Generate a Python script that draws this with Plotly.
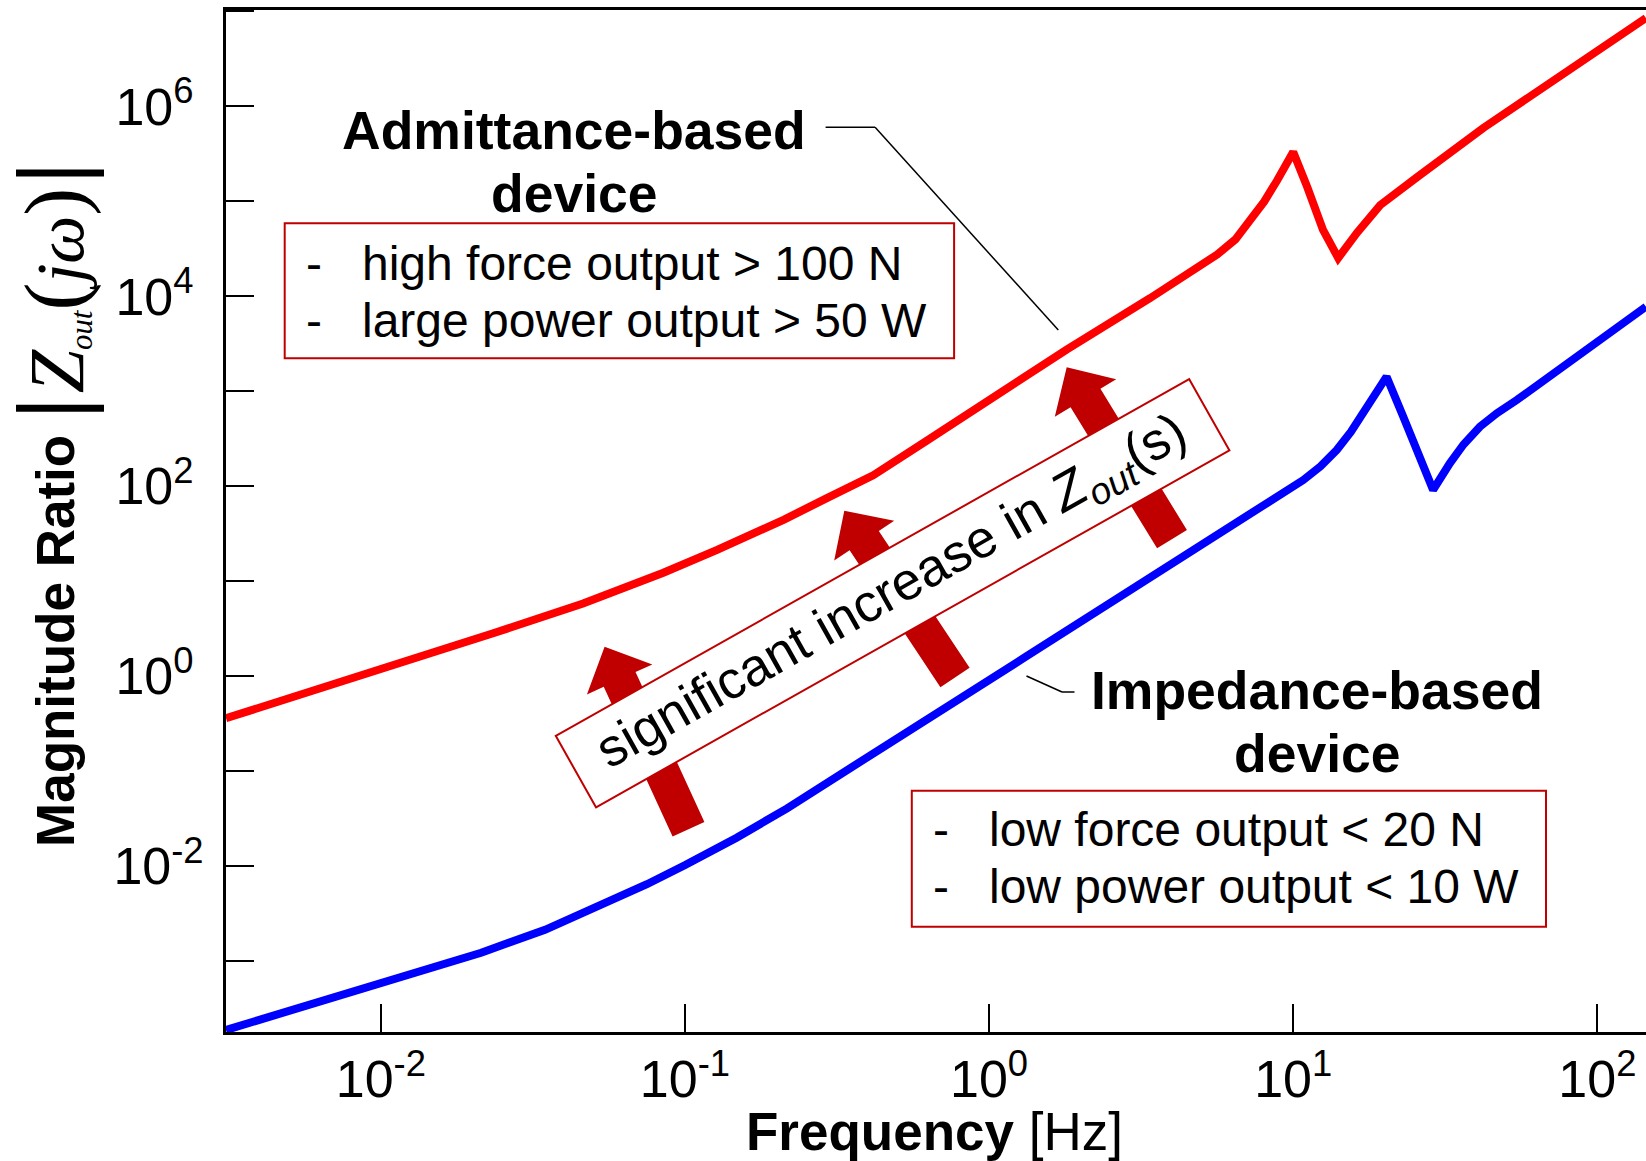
import math
import plotly.graph_objects as go

# ---------------- data ----------------
freq_admittance = [0.003097, 0.006095, 0.01197, 0.02355, 0.04624, 0.06310, 0.08492,
                   0.1276, 0.1660, 0.2118, 0.2951, 0.4159, 0.6209, 1.799, 3.381,
                   4.571, 5.623, 6.457, 7.194, 8.035, 8.851, 9.441, 10.0, 11.12,
                   12.53, 14.06, 16.22, 19.32, 21.38, 25.59, 42.17, 69.98, 144.5]
mag_admittance = [0.3606, 0.7079, 1.413, 2.851, 5.821, 8.414, 12.30,
                  21.38, 30.90, 44.67, 75.86, 130.3, 298.5, 2754, 9550,
                  17990, 27540, 39810, 61660, 100000, 166000, 239900, 331100, 141600,
                  50120, 25350, 46770, 91200, 114800, 180700, 592900, 1762000, 8511000]

freq_impedance = [0.003097, 0.009863, 0.02138, 0.03467, 0.05610, 0.07499, 0.1002,
                  0.1479, 0.2168, 0.3162, 0.4699, 1.321, 2.317, 6.683, 10.79, 12.30,
                  13.90, 15.49, 16.98, 18.62, 20.28, 23.01, 26.12, 28.84, 32.73,
                  36.31, 41.11, 46.77, 54.33, 69.18, 89.95, 144.5]
mag_impedance = [1.884e-4, 5.848e-4, 1.227e-3, 2.138e-3, 4.227e-3, 6.457e-3, 0.01028,
                 0.01995, 0.04064, 0.08610, 0.1968, 1.607, 5.129, 44.16, 116.4, 162.2,
                 241.0, 375.8, 586.1, 901.6, 1426, 540.8, 190.5, 91.41, 174.6,
                 275.4, 423.6, 588.8, 809.1, 1413, 2512, 7780]

x_tickvals = [0.01, 0.1, 1, 10, 100]
x_ticktext = ["10<sup>-2</sup>", "10<sup>-1</sup>", "10<sup>0</sup>",
              "10<sup>1</sup>", "10<sup>2</sup>"]
y_tickvals = [1e-2, 1e0, 1e2, 1e4, 1e6]
# labels are left-aligned in the reference: pad the short exponents
y_ticktext = ["10<sup>-2</sup>", "10<sup>0\u00a0</sup>", "10<sup>2\u00a0</sup>",
              "10<sup>4\u00a0</sup>", "10<sup>6\u00a0</sup>"]
y_minor_tickvals = [1e-3, 1e-1, 1e1, 1e3, 1e5, 1e7]

admittance_lines = ["-\u00a0\u00a0\u00a0high force output &gt; 100 N",
                    "-\u00a0\u00a0\u00a0large power output &gt; 50 W"]
impedance_lines = ["-\u00a0\u00a0\u00a0low force output &lt; 20 N",
                   "-\u00a0\u00a0\u00a0low power output &lt; 10 W"]

# ---------------- layout helpers ----------------
W, H = 1646, 1161
L, R, T, B = 226, 0, 10, 129
SANS = "Liberation Sans, Arial, sans-serif"
SERIF = "Liberation Serif, Times New Roman, serif"
DARKRED = "#C00000"


def px(X):
    return (X - L) / (W - L - R)


def py(Y):
    return (H - B - Y) / (H - T - B)


def block_arrow(tail, tip, shaft=35.0, head_w=72.0, head_len=36.0):
    """Filled block-arrow outline (page pixels -> paper coords) as an SVG path."""
    dx, dy = tip[0] - tail[0], tip[1] - tail[1]
    n = math.hypot(dx, dy)
    ux, uy = dx / n, dy / n
    nx, ny = -uy, ux
    bx, by = tip[0] - ux * head_len, tip[1] - uy * head_len
    s, h = shaft / 2, head_w / 2
    pts = [(tail[0] + nx * s, tail[1] + ny * s),
           (bx + nx * s, by + ny * s),
           (bx + nx * h, by + ny * h),
           tip,
           (bx - nx * h, by - ny * h),
           (bx - nx * s, by - ny * s),
           (tail[0] - nx * s, tail[1] - ny * s)]
    return "M " + " L ".join("%.5f,%.5f" % (px(a), py(b)) for a, b in pts) + " Z"


fig = go.Figure()
fig.add_trace(go.Scatter(x=freq_admittance, y=mag_admittance, mode="lines",
                         line=dict(color="#FF0000", width=8),
                         name="Admittance-based device", hoverinfo="skip"))
fig.add_trace(go.Scatter(x=freq_impedance, y=mag_impedance, mode="lines",
                         line=dict(color="#0000FF", width=8),
                         name="Impedance-based device", hoverinfo="skip"))

shapes = [
    dict(type="rect", xref="paper", yref="paper", x0=px(284.7), x1=px(954.1),
         y0=py(223.3), y1=py(358.3), line=dict(color=DARKRED, width=2),
         fillcolor="white", layer="above"),
    dict(type="rect", xref="paper", yref="paper", x0=px(911.8), x1=px(1546),
         y0=py(790.7), y1=py(926.7), line=dict(color=DARKRED, width=2),
         fillcolor="white", layer="above"),
    # callout leader lines
    dict(type="line", xref="paper", yref="paper", x0=px(825.6), y0=py(127.3),
         x1=px(875.1), y1=py(127.3), line=dict(color="black", width=1.5)),
    dict(type="line", xref="paper", yref="paper", x0=px(875.1), y0=py(127.3),
         x1=px(1058.3), y1=py(330), line=dict(color="black", width=1.5)),
    dict(type="line", xref="paper", yref="paper", x0=px(1026.5), y0=py(676),
         x1=px(1062), y1=py(692), line=dict(color="black", width=1.5)),
    dict(type="line", xref="paper", yref="paper", x0=px(1062), y0=py(692),
         x1=px(1074.5), y1=py(692), line=dict(color="black", width=1.5)),
]
# block arrows (shapes sit under the annotations, so the rotated label covers them)
for tail, tip in [((688.5, 829.2), (604.6, 646.7)),
                  ((955.0, 677.5), (844.3, 510.7)),
                  ((1172.0, 539.2), (1066.7, 367.3))]:
    shapes.append(dict(type="path", xref="paper", yref="paper",
                       path=block_arrow(tail, tip), fillcolor=DARKRED,
                       line=dict(width=0), layer="above"))

annotations = []

# rotated label
annotations.append(dict(
    x=px(892.9), y=py(592.9), xref="paper", yref="paper",
    xanchor="center", yanchor="middle", showarrow=False, textangle=-29.4,
    text="significant increase in <i>Z</i><sub><i>out</i></sub>(s)",
    font=dict(family=SANS, size=53, color="black"),
    bgcolor="white", bordercolor=DARKRED, borderwidth=2, borderpad=0,
    width=725, height=80, align="center", valign="middle"))

# bold headings
for txt, cx, cy in [("Admittance-based", 573.7, 130.3), ("device", 574.2, 193.7),
                    ("Impedance-based", 1316.7, 690.3), ("device", 1317.7, 753.7)]:
    annotations.append(dict(
        x=px(cx), y=py(cy), xref="paper", yref="paper", xanchor="center",
        yanchor="middle", showarrow=False, text="<b>%s</b>" % txt,
        font=dict(family=SANS, size=53.5, color="black"), borderpad=0))

# box texts
for lines, x0, ys in [(admittance_lines, 304.5, (263.4, 320.1)),
                      (impedance_lines, 931.5, (829.4, 886.7))]:
    for txt, cy in zip(lines, ys):
        annotations.append(dict(
            x=px(x0), y=py(cy), xref="paper", yref="paper", xanchor="left",
            yanchor="middle", showarrow=False, text=txt, align="left",
            font=dict(family=SANS, size=48, color="black"), borderpad=0))

# axis titles
annotations.append(dict(
    x=px(55), y=py(641), xref="paper", yref="paper", xanchor="center",
    yanchor="middle", showarrow=False, textangle=-90,
    text="<b>Magnitude Ratio</b>", font=dict(family=SANS, size=53, color="black"),
    borderpad=0))
math_title = ('<span style="font-family:DejaVu Serif;font-size:88px">|</span>'
              '<span style="font-size:78px"><i>Z</i></span>'
              '<span style="font-size:44px"><sub><i>out</i></sub></span>'
              '<span style="font-size:84px">(</span>'
              '<i>jω</i>'
              '<span style="font-size:84px">)</span>'
              '<span style="font-family:DejaVu Serif;font-size:88px">|</span>')
annotations.append(dict(
    x=px(53), y=py(291), xref="paper", yref="paper", xanchor="center",
    yanchor="middle", showarrow=False, textangle=-90,
    text=math_title, font=dict(family=SERIF, size=68, color="black"), borderpad=0))
annotations.append(dict(
    x=px(934), y=py(1131), xref="paper", yref="paper", xanchor="center",
    yanchor="middle", showarrow=False,
    text="<b>Frequency</b> [Hz]", font=dict(family=SANS, size=53, color="black"),
    borderpad=0))

fig.update_layout(
    width=W, height=H, autosize=False,
    margin=dict(l=L, r=R, t=T, b=B, pad=0),
    paper_bgcolor="white", plot_bgcolor="white",
    showlegend=False,
    font=dict(family=SANS, size=52, color="black"),
    annotations=annotations, shapes=shapes,
    xaxis=dict(type="log", range=[-2.509, 2.160], showgrid=False, zeroline=False,
               showline=True, linecolor="black", linewidth=3, mirror=True,
               ticks="inside", ticklen=28, tickwidth=2, tickcolor="black",
               tickvals=x_tickvals, ticktext=x_ticktext,
               tickfont=dict(family=SANS, size=52, color="black"),
               ticklabelstandoff=0),
    yaxis=dict(type="log", range=[-3.746, 7.015], showgrid=False, zeroline=False,
               showline=True, linecolor="black", linewidth=3, mirror=False,
               ticks="inside", ticklen=28, tickwidth=2, tickcolor="black",
               tickvals=y_tickvals, ticktext=y_ticktext,
               tickfont=dict(family=SANS, size=52, color="black"),
               ticklabelstandoff=9,
               minor=dict(tickvals=y_minor_tickvals, ticks="inside", ticklen=28,
                          tickwidth=2, tickcolor="black", showgrid=False)),
)

fig.write_html("out.html")
